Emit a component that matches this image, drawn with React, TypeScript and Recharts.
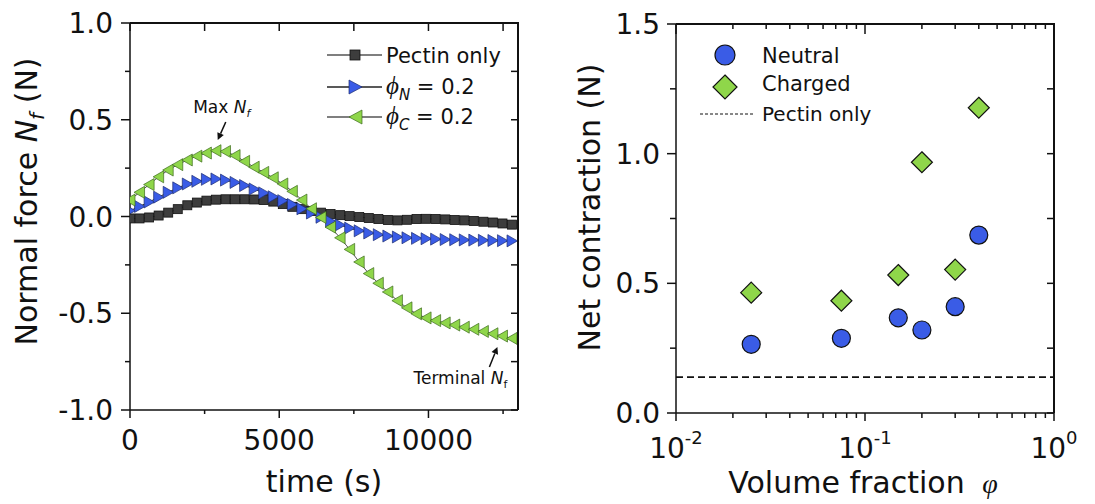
import React from 'react';
import { LineChart, Line, ScatterChart, Scatter, XAxis, YAxis, ReferenceLine, ReferenceDot, Legend } from 'recharts';

const FONT = "Verdana, 'DejaVu Sans', sans-serif";
const SERIF = "'Liberation Serif', 'DejaVu Serif', serif";
const INK = '#111111';
const BLUE = '#3a5ce6';
const GREEN = '#8fd64a';
const DARK = '#3d3d3d';

// ---------- Left panel: normal force vs time ----------
const timeS = [0, 320, 640, 960, 1280, 1600, 1920, 2240, 2560, 2880, 3200, 3520, 3840, 4160, 4480, 4800, 5120, 5440, 5760, 6080, 6400, 6720, 7040, 7360, 7680, 8000, 8320, 8640, 8960, 9280, 9600, 9920, 10240, 10560, 10880, 11200, 11520, 11840, 12160, 12480, 12800];
const pectinN = [-0.010, -0.010, -0.005, 0.005, 0.020, 0.038, 0.058, 0.072, 0.082, 0.087, 0.089, 0.089, 0.089, 0.088, 0.085, 0.077, 0.064, 0.050, 0.038, 0.028, 0.020, 0.013, 0.007, 0.002, -0.003, -0.008, -0.013, -0.018, -0.020, -0.017, -0.013, -0.012, -0.013, -0.015, -0.018, -0.020, -0.023, -0.027, -0.031, -0.036, -0.042];
const neutralN = [0.030, 0.052, 0.075, 0.100, 0.125, 0.148, 0.168, 0.182, 0.192, 0.194, 0.188, 0.176, 0.160, 0.142, 0.122, 0.102, 0.082, 0.062, 0.040, 0.018, -0.004, -0.025, -0.044, -0.060, -0.074, -0.085, -0.094, -0.101, -0.106, -0.110, -0.113, -0.115, -0.117, -0.119, -0.120, -0.121, -0.122, -0.123, -0.124, -0.125, -0.126];
const chargedN = [0.085, 0.125, 0.165, 0.205, 0.240, 0.268, 0.292, 0.312, 0.328, 0.340, 0.336, 0.315, 0.285, 0.255, 0.228, 0.200, 0.168, 0.130, 0.085, 0.040, -0.005, -0.055, -0.110, -0.170, -0.235, -0.295, -0.345, -0.390, -0.435, -0.472, -0.503, -0.524, -0.538, -0.550, -0.561, -0.572, -0.583, -0.594, -0.606, -0.618, -0.630];

const leftXDomain = [0, 13000];
const leftYDomain = [-1, 1];
const leftXTicks = [0, 2500, 5000, 7500, 10000, 12500];
const leftXMajor = [0, 5000, 10000];
const leftYTicks = [-1, -0.75, -0.5, -0.25, 0, 0.25, 0.5, 0.75, 1];
const leftYMajor = [-1, -0.5, 0, 0.5, 1];

const maxNf = { t: 2940, n: 0.395 };
const terminalNf = { t: 12310, n: -0.674 };

// ---------- Right panel: net contraction vs volume fraction ----------
const volumeFraction = [0.025, 0.075, 0.15, 0.2, 0.3, 0.4];
const neutralContraction = [0.265, 0.288, 0.367, 0.32, 0.41, 0.686];
const chargedContraction = [0.464, 0.433, 0.532, 0.967, 0.553, 1.177];
const pectinOnlyContraction = 0.138;

const rightXDomain = [0.01, 1];
const rightYDomain = [0, 1.5];
const rightXTicks = [0.01, 0.02, 0.03, 0.04, 0.05, 0.06, 0.07, 0.08, 0.09, 0.1, 0.2, 0.3, 0.4, 0.5, 0.6, 0.7, 0.8, 0.9, 1];
const rightXMajor = [0.01, 0.1, 1];
const rightXExponent = ['-2', '-1', '0'];
const rightYTicks = [0, 0.25, 0.5, 0.75, 1, 1.25, 1.5];
const rightYMajor = [0, 0.5, 1, 1.5];

const leftData = timeS.map((t, i) => ({ t, pectin: pectinN[i], neutral: neutralN[i], charged: chargedN[i] }));
const neutralData = volumeFraction.map((x, i) => ({ x, y: neutralContraction[i] }));
const chargedData = volumeFraction.map((x, i) => ({ x, y: chargedContraction[i] }));

const has = (arr: number[], v: number) => arr.some((a) => Math.abs(a - v) < 1e-9);
const AX = { stroke: INK, strokeWidth: 1.5 };

// ---------- tick renderers (axis at x/y since tickSize=0, tickMargin=0) ----------
const makeYTick = (majors: number[], labelGap: number, minorLen: number) => (p: any) => {
  const v = p.payload.value;
  const major = has(majors, v);
  return (
    <g>
      <line x1={p.x - (major ? 9 : minorLen)} x2={p.x} y1={p.y} y2={p.y} stroke={INK} strokeWidth={1.5} />
      {major && (
        <text x={p.x - labelGap} y={p.y} dy="0.36em" textAnchor="end" fontSize={28} fontFamily={FONT} fill={INK}>
          {v.toFixed(1)}
        </text>
      )}
    </g>
  );
};
const LeftYTick = makeYTick(leftYMajor, 17, 5);
const RYTick = makeYTick(rightYMajor, 16, 6);

const LeftXTick = (p: any) => {
  const v = p.payload.value;
  const major = has(leftXMajor, v);
  return (
    <g>
      <line x1={p.x} x2={p.x} y1={p.y} y2={p.y + (major ? 8 : 4)} stroke={INK} strokeWidth={1.5} />
      {major && (
        <text x={p.x} y={p.y + 40} textAnchor="middle" fontSize={28} fontFamily={FONT} fill={INK}>
          {String(v)}
        </text>
      )}
    </g>
  );
};
const LeftTopTick = (p: any) => <line x1={p.x} x2={p.x} y1={p.y} y2={p.y + 8} stroke={INK} strokeWidth={1.5} />;
const RTopTick = (p: any) => {
  const major = has(rightXMajor, p.payload.value);
  return <line x1={p.x} x2={p.x} y1={p.y} y2={p.y + (major ? 10 : 5)} stroke={INK} strokeWidth={1.5} />;
};
const SideTick = (p: any) => <line x1={p.x - 7} x2={p.x} y1={p.y} y2={p.y} stroke={INK} strokeWidth={1.5} />;

const RXTick = (p: any) => {
  const v = p.payload.value;
  const idx = rightXMajor.findIndex((m) => Math.abs(m - v) < 1e-9);
  const major = idx >= 0;
  return (
    <g>
      <line x1={p.x} x2={p.x} y1={p.y} y2={p.y + (major ? 8 : 5)} stroke={INK} strokeWidth={1.5} />
      {major && (
        <text x={p.x} y={p.y + 45} textAnchor="middle" fontSize={28} fontFamily={FONT} fill={INK}>
          10
          <tspan fontSize={18} dy={-14}>{rightXExponent[idx]}</tspan>
        </text>
      )}
    </g>
  );
};

// ---------- markers ----------
const SquareDot = (p: any) =>
  p.cx == null ? <g key={`s${p.index}`} /> : (
    <rect key={`s${p.index}`} x={p.cx - 4.5} y={p.cy - 4.5} width={9} height={9} fill={DARK} stroke="#111" strokeWidth={0.8} />
  );
const RightTriDot = (p: any) =>
  p.cx == null ? <g key={`r${p.index}`} /> : (
    <polygon key={`r${p.index}`} points={`${p.cx - 5},${p.cy - 6} ${p.cx + 5.5},${p.cy} ${p.cx - 5},${p.cy + 6}`} fill={BLUE} stroke="#1d2d70" strokeWidth={0.7} />
  );
const LeftTriDot = (p: any) =>
  p.cx == null ? <g key={`l${p.index}`} /> : (
    <polygon key={`l${p.index}`} points={`${p.cx + 5},${p.cy - 6} ${p.cx - 5.5},${p.cy} ${p.cx + 5},${p.cy + 6}`} fill={GREEN} stroke="#3c6a1c" strokeWidth={0.7} />
  );
const CircleShape = (p: any) => <circle cx={p.cx} cy={p.cy} r={9} fill={BLUE} stroke="#111" strokeWidth={1.2} />;
const DiamondShape = (p: any) => (
  <polygon points={`${p.cx},${p.cy - 10.5} ${p.cx + 10.5},${p.cy} ${p.cx},${p.cy + 10.5} ${p.cx - 10.5},${p.cy}`} fill={GREEN} stroke="#111" strokeWidth={1.2} />
);

// ---------- annotations ----------
const Arrow = ({ x1, y1, x2, y2 }: any) => {
  const ang = Math.atan2(y2 - y1, x2 - x1);
  const L = 7, W = 3.5;
  const bx = x2 - L * Math.cos(ang), by = y2 - L * Math.sin(ang);
  const px = -Math.sin(ang) * W, py = Math.cos(ang) * W;
  return (
    <g>
      <line x1={x1} y1={y1} x2={bx} y2={by} stroke={INK} strokeWidth={1.5} />
      <polygon points={`${x2},${y2} ${bx + px},${by + py} ${bx - px},${by - py}`} fill={INK} />
    </g>
  );
};
const MaxShape = (p: any) => (
  <g>
    <Arrow x1={p.cx + 8} y1={p.cy - 18} x2={p.cx} y2={p.cy} />
    <text x={p.cx + 4} y={p.cy - 27} textAnchor="middle" fontSize={17} fontFamily={FONT} fill={INK}>
      Max <tspan fontStyle="italic">N</tspan>
      <tspan fontStyle="italic" fontSize={11} dy={4}>f</tspan>
    </text>
  </g>
);
const TerminalShape = (p: any) => (
  <g>
    <Arrow x1={p.cx - 8} y1={p.cy + 20} x2={p.cx} y2={p.cy} />
    <text x={p.cx - 37} y={p.cy + 37} textAnchor="middle" fontSize={17} fontFamily={FONT} fill={INK}>
      Terminal <tspan fontStyle="italic">N</tspan>
      <tspan fontSize={11} dy={4}>f</tspan>
    </text>
  </g>
);

// ---------- legends ----------
const LeftLegend = () => {
  const rows = [20, 52, 82];
  return (
    <svg width={200} height={110} style={{ display: 'block' }}>
      <line x1={5} x2={60} y1={rows[0]} y2={rows[0]} stroke="#555" strokeWidth={1.5} />
      <rect x={28} y={rows[0] - 5} width={10} height={10} fill={DARK} stroke="#111" strokeWidth={0.8} />
      <line x1={5} x2={60} y1={rows[1]} y2={rows[1]} stroke="#222" strokeWidth={1.5} />
      <polygon points={`${27},${rows[1] - 7} ${40},${rows[1]} ${27},${rows[1] + 7}`} fill={BLUE} stroke="#1d2d70" strokeWidth={0.7} />
      <line x1={5} x2={60} y1={rows[2]} y2={rows[2]} stroke="#555" strokeWidth={1.5} />
      <polygon points={`${40},${rows[2] - 7} ${27},${rows[2]} ${40},${rows[2] + 7}`} fill={GREEN} stroke="#3c6a1c" strokeWidth={0.7} />
      <text x={64} y={rows[0] + 8} fontSize={21} fontFamily={FONT} fill={INK}>Pectin only</text>
      <text x={64} y={rows[1] + 7} fontSize={21} fontFamily={FONT} fill={INK}>
        <tspan fontFamily={SERIF} fontStyle="italic" fontSize={25}>ϕ</tspan>
        <tspan fontStyle="italic" fontSize={15} dy={6}>N</tspan>
        <tspan dy={-6}> = 0.2</tspan>
      </text>
      <text x={64} y={rows[2] + 7} fontSize={21} fontFamily={FONT} fill={INK}>
        <tspan fontFamily={SERIF} fontStyle="italic" fontSize={25}>ϕ</tspan>
        <tspan fontStyle="italic" fontSize={15} dy={6}>C</tspan>
        <tspan dy={-6}> = 0.2</tspan>
      </text>
    </svg>
  );
};
const RightLegend = () => (
  <svg width={200} height={90} style={{ display: 'block' }}>
    <circle cx={35} cy={15} r={10} fill={BLUE} stroke="#111" strokeWidth={1.2} />
    <polygon points={`35,${47 - 12} 47,47 35,${47 + 12} 23,47`} fill={GREEN} stroke="#111" strokeWidth={1.2} />
    <line x1={10} x2={65} y1={74} y2={74} stroke={INK} strokeWidth={1} strokeDasharray="3 2" />
    <text x={72} y={23} fontSize={21} fontFamily={FONT} fill={INK}>Neutral</text>
    <text x={72} y={51} fontSize={21} fontFamily={FONT} fill={INK}>Charged</text>
    <text x={72} y={81} fontSize={20} fontFamily={FONT} fill={INK}>Pectin only</text>
  </svg>
);

// ---------- axis labels ----------
const vbOr = (p: any, d: any) => (p && p.viewBox ? p.viewBox : d);
const LeftYLabel = (p: any) => {
  const vb = vbOr(p, { x: 0, y: 23, width: 130, height: 387 });
  const x = vb.x + 37, y = vb.y + vb.height / 2 - 15;
  return (
    <text x={x} y={y} transform={`rotate(-90 ${x} ${y})`} textAnchor="middle" fontSize={30} fontFamily={FONT} fill={INK}>
      Normal force <tspan fontStyle="italic">N</tspan>
      <tspan fontStyle="italic" fontSize={20} dy={7}>f</tspan>
      <tspan dy={-7}> (N)</tspan>
    </text>
  );
};
const LeftXLabel = (p: any) => {
  const vb = vbOr(p, { x: 130, y: 410, width: 388, height: 94 });
  return (
    <text x={vb.x + vb.width / 2} y={vb.y + 82} textAnchor="middle" fontSize={30} fontFamily={FONT} fill={INK}>
      time (s)
    </text>
  );
};
const RightYLabel = (p: any) => {
  const vb = vbOr(p, { x: 0, y: 24, width: 136, height: 389 });
  const x = vb.x + 60, y = vb.y + vb.height / 2 - 11;
  return (
    <text x={x} y={y} transform={`rotate(-90 ${x} ${y})`} textAnchor="middle" fontSize={30} fontFamily={FONT} fill={INK}>
      Net contraction (N)
    </text>
  );
};
const RightXLabel = (p: any) => {
  const vb = vbOr(p, { x: 136, y: 413, width: 378, height: 91 });
  return (
    <text x={vb.x + vb.width / 2 - 2} y={vb.y + 80} textAnchor="middle" fontSize={30} fontFamily={FONT} fill={INK}>
      Volume fraction <tspan fontFamily={SERIF} fontStyle="italic" fontSize={28} dx={8}>φ</tspan>
    </text>
  );
};

// closed-box frame edges (top and right) as plain overlays
const frameStyle = (left: number, top: number, width: number, height: number): React.CSSProperties => ({
  position: 'absolute',
  left,
  top,
  width,
  height,
  boxSizing: 'border-box',
  borderTop: `2px solid ${INK}`,
  borderRight: `2px solid ${INK}`,
  pointerEvents: 'none',
});

export default function App() {
  return (
    <div style={{ position: 'absolute', left: 0, top: 0, width: 1095, height: 504, background: '#fff', overflow: 'hidden' }}>
      <div style={{ position: 'absolute', left: 0, top: 0 }}>
        <LineChart width={540} height={504} data={leftData} margin={{ top: 22, right: 21, left: 0, bottom: 0 }}>
          <XAxis dataKey="t" type="number" domain={leftXDomain} allowDataOverflow ticks={leftXTicks} interval={0}
            tickSize={0} tickMargin={0} tickLine={false} axisLine={AX} tick={LeftXTick} height={94} label={LeftXLabel} />
          <XAxis xAxisId="top" orientation="top" dataKey="t" type="number" domain={leftXDomain} allowDataOverflow ticks={leftXTicks}
            interval={0} tickSize={0} tickMargin={0} tickLine={false} axisLine={AX} tick={LeftTopTick} height={1} />
          <YAxis type="number" domain={leftYDomain} allowDataOverflow ticks={leftYTicks} interval={0}
            tickSize={0} tickMargin={0} tickLine={false} axisLine={AX} tick={LeftYTick} width={130} label={LeftYLabel} />
          <YAxis yAxisId="right" orientation="right" type="number" domain={leftYDomain} allowDataOverflow ticks={leftYTicks}
            interval={0} tickSize={0} tickMargin={0} tickLine={false} axisLine={AX} tick={SideTick} width={1} />
          <Line dataKey="pectin" stroke="#555" strokeWidth={1} dot={SquareDot} activeDot={false} isAnimationActive={false} />
          <Line dataKey="neutral" stroke="#222" strokeWidth={1} dot={RightTriDot} activeDot={false} isAnimationActive={false} />
          <Line dataKey="charged" stroke="#555" strokeWidth={1} dot={LeftTriDot} activeDot={false} isAnimationActive={false} />
          <ReferenceDot x={maxNf.t} y={maxNf.n} r={0} shape={MaxShape} />
          <ReferenceDot x={terminalNf.t} y={terminalNf.n} r={0} shape={TerminalShape} />
          <Legend content={LeftLegend} layout="vertical" align="center" verticalAlign="middle"
            wrapperStyle={{ left: 322, top: 35, width: 200, height: 110 }} />
        </LineChart>
      </div>
      <div style={frameStyle(130, 22, 389, 388)} />
      <div style={{ position: 'absolute', left: 540, top: 0 }}>
        <ScatterChart width={555} height={504} margin={{ top: 23, right: 40, left: 0, bottom: 0 }}>
          <XAxis dataKey="x" type="number" scale="log" domain={rightXDomain} allowDataOverflow ticks={rightXTicks} interval={0}
            tickSize={0} tickMargin={0} tickLine={false} axisLine={AX} tick={RXTick} height={91} label={RightXLabel} />
          <XAxis xAxisId="top" orientation="top" dataKey="x" type="number" scale="log" domain={rightXDomain} allowDataOverflow
            ticks={rightXTicks} interval={0} tickSize={0} tickMargin={0} tickLine={false} axisLine={AX} tick={RTopTick} height={1} />
          <YAxis dataKey="y" type="number" domain={rightYDomain} allowDataOverflow ticks={rightYTicks} interval={0}
            tickSize={0} tickMargin={0} tickLine={false} axisLine={AX} tick={RYTick} width={136} label={RightYLabel} />
          <YAxis yAxisId="right" orientation="right" dataKey="y" type="number" domain={rightYDomain} allowDataOverflow ticks={rightYTicks}
            interval={0} tickSize={0} tickMargin={0} tickLine={false} axisLine={AX} tick={SideTick} width={1} />
          <ReferenceLine y={pectinOnlyContraction} stroke={INK} strokeWidth={1.8} strokeDasharray="7 4" />
          <Scatter name="Neutral" data={neutralData} shape={CircleShape} isAnimationActive={false} />
          <Scatter name="Charged" data={chargedData} shape={DiamondShape} isAnimationActive={false} />
          <Legend content={RightLegend} layout="vertical" align="center" verticalAlign="middle"
            wrapperStyle={{ left: 150, top: 40, width: 200, height: 90 }} />
        </ScatterChart>
      </div>
      <div style={frameStyle(676, 23, 379, 390)} />
    </div>
  );
}
